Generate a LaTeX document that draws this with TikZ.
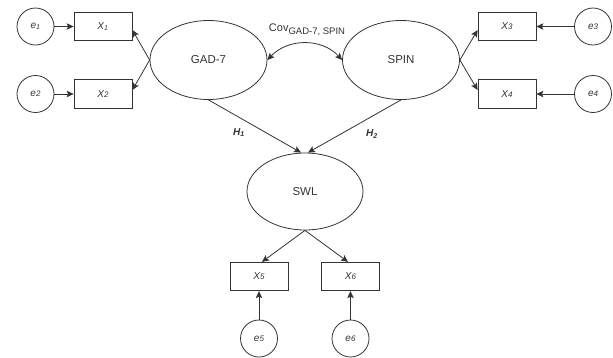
\documentclass[tikz,border=0pt]{standalone}
\usepackage{fontspec}
\setmainfont{Liberation Sans}
\usetikzlibrary{arrows.meta}
\definecolor{ln}{HTML}{333333}
\definecolor{tx}{HTML}{333333}
\tikzset{
  lat/.style={draw=ln, line width=0.8pt, ellipse, minimum width=117pt, minimum height=79pt, inner sep=0pt, text=tx, font=\fontsize{11.5}{13}\selectfont},
  obs/.style={draw=ln, line width=0.8pt, rectangle, minimum width=58pt, minimum height=28.5pt, inner sep=0pt, text=tx, font=\fontsize{10}{12}\selectfont\itshape},
  err/.style={draw=ln, line width=0.8pt, circle, minimum size=37pt, inner sep=0pt, text=tx, font=\fontsize{10}{12}\selectfont\itshape},
  arr/.style={draw=ln, line width=0.8pt, -{Stealth[length=7pt,width=6.5pt,inset=1.5pt]}},
  darr/.style={draw=ln, line width=0.8pt, {Stealth[length=7pt,width=6.5pt,inset=1.5pt]}-{Stealth[length=7pt,width=6.5pt,inset=1.5pt]}},
  lbl/.style={text=tx, inner sep=0pt}
}
\usetikzlibrary{shapes.geometric}
\newcommand{\smd}[1]{{\fontsize{8}{8}\selectfont #1}}
\begin{document}
\begin{tikzpicture}[x=1pt,y=-1pt]
\useasboundingbox (0,0) rectangle (613,357);
% latent
\node[lat] (gad) at (208.5,60) {GAD-7};
\node[lat] (spin) at (401,60) {SPIN};
\node[lat, minimum width=116pt, minimum height=77pt] (swl) at (305,191.5) {SWL};
% observed
\node[obs] (x1) at (103,26.5) {X\textsubscript{1}};
\node[obs] (x2) at (103,94) {X\smd{2}};
\node[obs] (x3) at (507,26.5) {X\smd{3}};
\node[obs] (x4) at (507,94) {X\smd{4}};
\node[obs] (x5) at (259,276.5) {X\smd{5}};
\node[obs] (x6) at (350.5,276.5) {X\smd{6}};
% errors
\node[err] (e1) at (35.5,26.5) {e\textsubscript{1}};
\node[err] (e2) at (35.5,94) {e\smd{2}};
\node[err] (e3) at (593,26.5) {e\smd{3}};
\node[err] (e4) at (593,94) {e\smd{4}};
\node[err] (e5) at (259,338.5) {e\smd{5}};
\node[err] (e6) at (350.5,338.5) {e\smd{6}};
% error arrows
\draw[arr] (e1) -- (x1);
\draw[arr] (e2) -- (x2);
\draw[arr] (e3) -- (x3);
\draw[arr] (e4) -- (x4);
\draw[arr] (e5) -- (x5);
\draw[arr] (e6) -- (x6);
% loadings
\draw[arr] (gad.west) -- ([yshift=-3.5pt]x1.east);
\draw[arr] (gad.west) -- ([yshift=4pt]x2.east);
\draw[arr] (spin.east) -- ([yshift=-3.5pt]x3.west);
\draw[arr] (spin.east) -- ([yshift=4pt]x4.west);
\draw[arr] (swl.south) -- ([xshift=3pt]x5.north);
\draw[arr] (swl.south) -- ([xshift=-2.5pt]x6.north);
% paths
\draw[arr] (gad.south) -- ([xshift=-4pt]swl.north);
\draw[arr] (spin.south) -- ([xshift=3pt]swl.north);
\node[lbl, font=\fontsize{10}{12}\selectfont\bfseries\itshape] (h1) at (239,132.5) {H\textsubscript{1}};
\node[lbl, font=\fontsize{10}{12}\selectfont\bfseries\itshape] (h2) at (372,134) {H\textsubscript{2}};
% covariance
\draw[darr] (gad.east) .. controls (288,38) and (322,38) .. (spin.west);
\node[lbl, font=\fontsize{11}{13}\selectfont] (cov) at (307,30) {Cov\raisebox{-3pt}{\fontsize{9.5}{11}\selectfont GAD-7, SPIN}};
\end{tikzpicture}
\end{document}
